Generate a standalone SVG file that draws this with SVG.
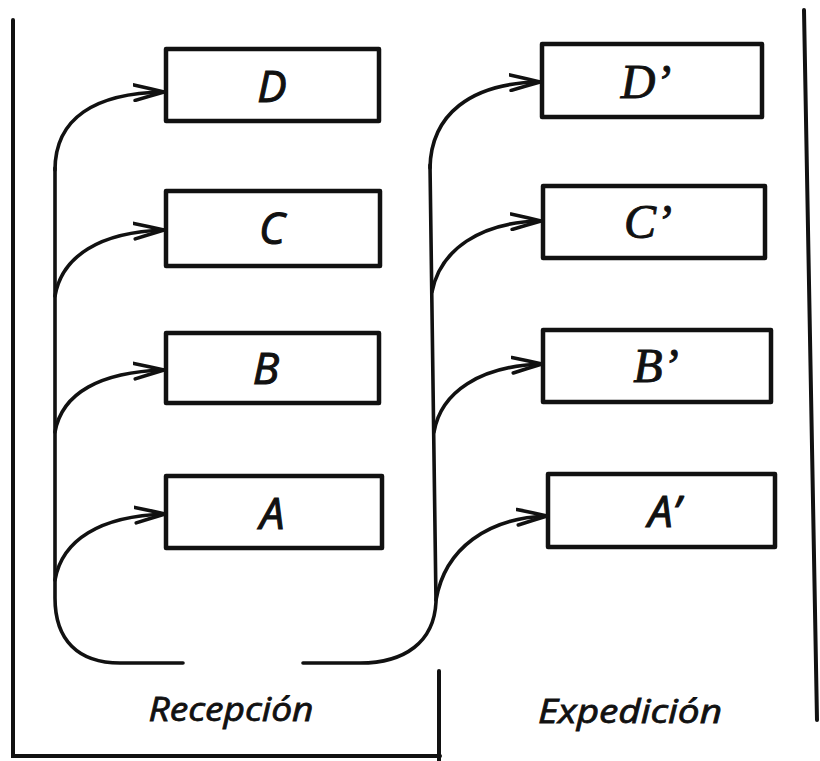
<svg xmlns="http://www.w3.org/2000/svg" width="820" height="761" viewBox="0 0 820 761">
  <style>
    .frame { fill: none; stroke: #111111; stroke-width: 4; stroke-linecap: round; }
    .box { fill: #ffffff; stroke: #111111; stroke-width: 4.5; stroke-linejoin: round; }
    .flow { fill: none; stroke: #111111; stroke-width: 3.6; stroke-linecap: round; }
    .lbl { font-family: "Open Sans", "Liberation Sans", Arial, sans-serif; font-style: italic; font-size: 44px; fill: #111111; stroke: #111111; stroke-width: 1.1; text-anchor: middle; }
    .lbl-serif { font-family: "Liberation Serif", "Times New Roman", serif; font-style: italic; font-size: 48px; fill: #111111; stroke: #111111; stroke-width: 0.9; text-anchor: middle; }
    .area { font-family: "Open Sans", "Liberation Sans", Arial, sans-serif; font-style: italic; font-size: 33px; fill: #111111; stroke: #111111; stroke-width: 0.8; text-anchor: middle; }
  </style>
  <defs>
    <marker id="arrow" viewBox="0 0 32 20" refX="31" refY="10" markerWidth="32" markerHeight="20" markerUnits="userSpaceOnUse" orient="auto">
      <path d="M1,2.5 Q16,6 31,10 Q16,14 2,18" fill="none" stroke="#111111" stroke-width="3.6" stroke-linecap="round" stroke-linejoin="round"/>
    </marker>
  </defs>

  <rect width="820" height="761" fill="#ffffff"/>

  <!-- outer frame and section divider -->
  <g id="frame">
    <path class="frame" d="M13,20 L13,756 L440,756"/>
    <path class="frame" d="M439,671 L439,761"/>
    <path class="frame" d="M804,10 L817,720"/>
  </g>

  <!-- reception side -->
  <g id="node-D">
    <rect class="box" x="166" y="49" width="213" height="72"/>
    <text class="lbl" x="272" y="102">D</text>
  </g>
  <g id="node-C">
    <rect class="box" x="166" y="191" width="214" height="75"/>
    <text class="lbl" x="272" y="244">C</text>
  </g>
  <g id="node-B">
    <rect class="box" x="166" y="333" width="213" height="70"/>
    <text class="lbl" x="266" y="384">B</text>
  </g>
  <g id="node-A">
    <rect class="box" x="166" y="476" width="216" height="72"/>
    <text class="lbl" x="272" y="529">A</text>
  </g>

  <!-- dispatch side -->
  <g id="node-D2">
    <rect class="box" x="542" y="44" width="220" height="73"/>
    <text class="lbl-serif" x="646" y="98">D’</text>
  </g>
  <g id="node-C2">
    <rect class="box" x="543" y="186" width="222" height="72"/>
    <text class="lbl-serif" x="648" y="238">C’</text>
  </g>
  <g id="node-B2">
    <rect class="box" x="543" y="330" width="228" height="72"/>
    <text class="lbl-serif" x="656" y="382">B’</text>
  </g>
  <g id="node-A2">
    <rect class="box" x="548" y="474" width="227" height="73"/>
    <text class="lbl" x="664" y="527">A’</text>
  </g>

  <!-- section captions -->
  <g id="caption-recepcion">
    <text class="area" x="231" y="721" textLength="165" lengthAdjust="spacingAndGlyphs">Recepción</text>
  </g>
  <g id="caption-expedicion">
    <text class="area" x="630" y="723" textLength="184" lengthAdjust="spacingAndGlyphs">Expedición</text>
  </g>

  <!-- connectors -->
  <g id="connectors">
    <!-- reception trunk, looping down into the return line -->
    <path class="flow" d="M55,168 L55,598 C55,640 78,663 120,663 L183,663"/>
    <path class="flow" marker-end="url(#arrow)" d="M55,170 C55,118 95,93 164,92"/>
    <path class="flow" marker-end="url(#arrow)" d="M55,296 C62,256 100,232 164,230"/>
    <path class="flow" marker-end="url(#arrow)" d="M55,432 C62,393 100,372 164,370"/>
    <path class="flow" marker-end="url(#arrow)" d="M55,580 C62,540 100,516 165,514"/>
    <!-- dispatch trunk, rising from the return line -->
    <path class="flow" d="M303,663 L360,663 C405,663 434,642 436,602 L430,165"/>
    <path class="flow" marker-end="url(#arrow)" d="M430,168 C431,115 470,83 540,82"/>
    <path class="flow" marker-end="url(#arrow)" d="M432,292 C440,250 480,222 541,221"/>
    <path class="flow" marker-end="url(#arrow)" d="M434,432 C441,392 480,366 542,364"/>
    <path class="flow" marker-end="url(#arrow)" d="M436,600 C445,548 488,518 547,516"/>
  </g>
</svg>
